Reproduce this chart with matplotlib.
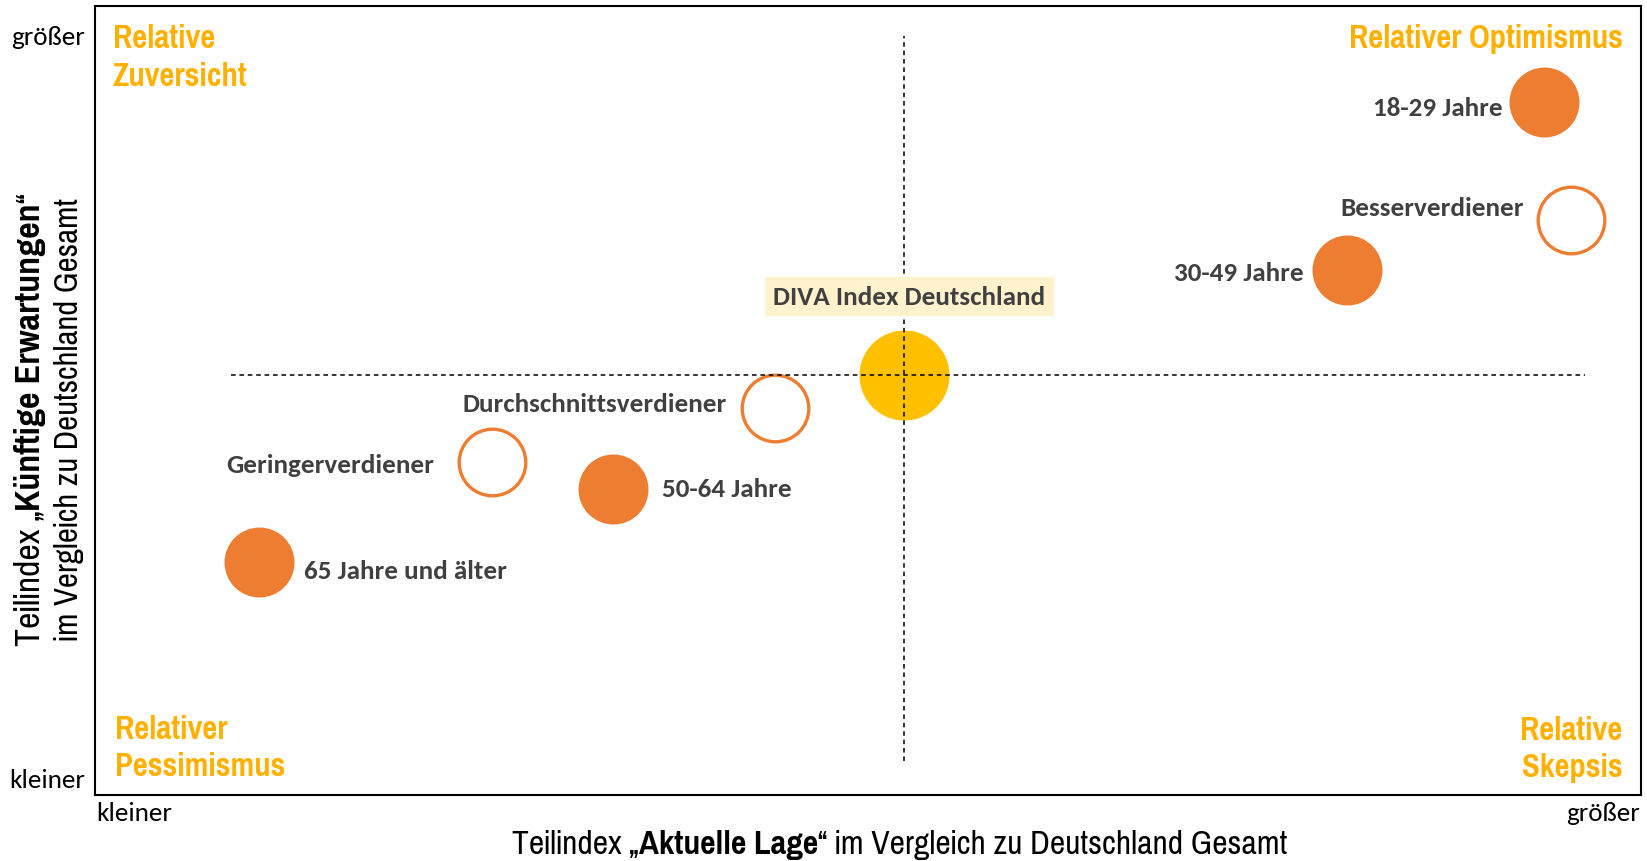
import matplotlib
matplotlib.use("Agg")
import matplotlib.pyplot as plt

# groups on the map (relative position, 0..100 on both axes)
labels = ['DIVA Index Deutschland', '18-29 Jahre', '30-49 Jahre', '50-64 Jahre',
          '65 Jahre und älter', 'Besserverdiener', 'Durchschnittsverdiener', 'Geringerverdiener']
aktuelle_lage = [52.3, 93.7, 81.0, 33.5, 10.6, 95.5, 44.0, 25.7]
kuenftige_erw = [53.2, 87.8, 66.5, 38.8, 29.5, 72.9, 49.0, 42.2]
kind = ['total', 'age', 'age', 'age', 'age', 'income', 'income', 'income']

x_ticklabels = ['kleiner', 'größer']
y_ticklabels = ['größer', 'kleiner']
quadrants = ['Relative\nZuversicht', 'Relativer Optimismus', 'Relativer\nPessimismus', 'Relative\nSkepsis']

ORANGE = '#ED7D31'
GOLD = '#FFC000'
QUAD = '#FFB000'
GREY = '#404040'
LABEL_FONT = ['Carlito', 'Lato', 'DejaVu Sans']
NARROW = ['Liberation Sans Narrow', 'Arial Narrow', 'Pragati Narrow', 'PT Sans Narrow', 'Liberation Sans', 'DejaVu Sans']

W, H = 1647, 862
fig = plt.figure(figsize=(W / 100, H / 100), dpi=100)
renderer = fig.canvas.get_renderer()
ax = fig.add_axes([95 / W, 66 / H, 1546 / W, 789 / H])
ax.set_xlim(0, 100)
ax.set_ylim(0, 100)
for sp in ax.spines.values():
    sp.set_linewidth(1.5)


def text_width(parts, size):
    w = 0
    for s, wt in parts:
        t = fig.text(0, 0, s, fontsize=size, fontweight=wt, family=NARROW)
        w += t.get_window_extent(renderer).width
        t.remove()
    return w


def fit_size(parts, target_px, base=20.0):
    return base * target_px / text_width(parts, base)


# crosshair through the total index
diva_x, diva_y = aktuelle_lage[0], kuenftige_erw[0]
ax.plot([8.8, 96.4], [diva_y, diva_y], color='black', lw=1.1, ls=(0, (3, 2.5)), zorder=5)
ax.plot([diva_x, diva_x], [4.3, 96.2], color='black', lw=1.1, ls=(0, (3, 2.5)), zorder=5)

# label offsets in pixels (dx, dy) and alignment
offsets = {
    'DIVA Index Deutschland': (6, 79, 'center'),
    '18-29 Jahre': (-41, -5, 'right'),
    '30-49 Jahre': (-44, -2, 'right'),
    '50-64 Jahre': (49, 0, 'left'),
    '65 Jahre und älter': (45, -8, 'left'),
    'Besserverdiener': (-48, 12, 'right'),
    'Durchschnittsverdiener': (-48, 5, 'right'),
    'Geringerverdiener': (-58, -2, 'right'),
}

for lab, x, y, k in zip(labels, aktuelle_lage, kuenftige_erw, kind):
    if k == 'total':
        ax.scatter(x, y, s=4200, color=GOLD, linewidths=0, zorder=3)
    elif k == 'age':
        ax.scatter(x, y, s=2540, color=ORANGE, linewidths=0, zorder=3)
    else:
        ax.scatter(x, y, s=2300, facecolor='white', edgecolor=ORANGE, linewidths=2.4, zorder=3)
    dx, dy, ha = offsets[lab]
    kw = {}
    if k == 'total':
        kw['bbox'] = dict(boxstyle='square,pad=0.3', facecolor='#FFF2CC', edgecolor='none')
    ax.annotate(lab, (x, y), xytext=(dx * 0.72, dy * 0.72), textcoords='offset points',
                ha=ha, va='center', fontsize=19.5, fontweight='bold', color=GREY,
                family=LABEL_FONT, zorder=6, **kw)

# quadrant names
qsize = fit_size([(quadrants[1], 'bold')], 274)
qkw = dict(transform=ax.transAxes, color=QUAD, fontsize=qsize, fontweight='bold',
           family=NARROW, va='center', linespacing=1.32)
ax.text(0.0116, 0.935, quadrants[0], ha='left', **qkw)
ax.text(0.988, 0.959, quadrants[1], ha='right', **qkw)
ax.text(0.013, 0.060, quadrants[2], ha='left', **qkw)
ax.text(0.988, 0.059, quadrants[3], ha='right', multialignment='right', **qkw)

# ends of the axes
ax.set_xticks([0.1, 99.9], x_ticklabels)
ax.set_yticks([96.4, 2.2], y_ticklabels)
ax.tick_params(length=0, labelsize=19.5, colors='black')
ax.tick_params(axis='x', pad=4)
ax.tick_params(axis='y', pad=7)
for t in ax.get_xticklabels() + ax.get_yticklabels():
    t.set_family(LABEL_FONT)
xt = ax.get_xticklabels()
xt[0].set_ha('left')
xt[1].set_ha('right')


def mixed_text(parts, x_px, y_px, target_px, rotation=0):
    size = fit_size(parts, target_px)
    widths = []
    for s, w in parts:
        t = fig.text(0, 0, s, fontsize=size, fontweight=w, family=NARROW)
        widths.append(t.get_window_extent(renderer).width)
        t.remove()
    pos = -sum(widths) / 2
    for (s, w), wd in zip(parts, widths):
        if rotation == 0:
            xx, yy = x_px + pos, y_px
        else:
            xx, yy = x_px, y_px - pos
        fig.text(xx / W, 1 - yy / H, s, fontsize=size, fontweight=w, family=NARROW,
                 rotation=rotation, rotation_mode='anchor', ha='left', va='center')
        pos += wd


mixed_text([('Teilindex „', 'normal'), ('Aktuelle Lage', 'bold'),
            ('“ im Vergleich zu Deutschland Gesamt', 'normal')], 900, 845, 776)
mixed_text([('Teilindex „', 'normal'), ('Künftige Erwartungen', 'bold'), ('“', 'normal')],
           30, 420, 452, rotation=90)
mixed_text([('im Vergleich zu Deutschland Gesamt', 'normal')], 69, 420, 441, rotation=90)

fig.savefig('out.png', dpi=100)
